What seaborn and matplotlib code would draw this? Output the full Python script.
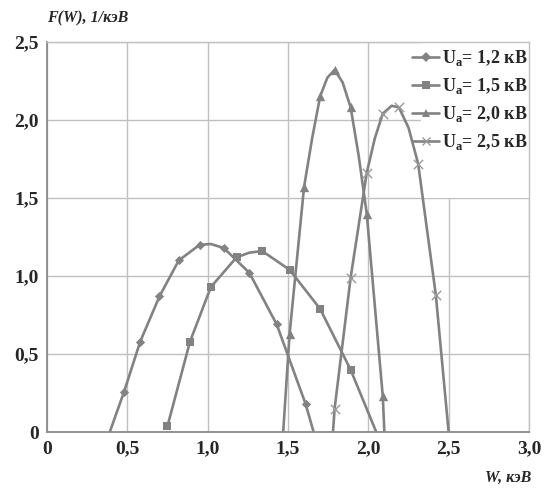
import numpy as np
import pandas as pd
import seaborn as sns
import matplotlib.pyplot as plt
from matplotlib.lines import Line2D
from matplotlib.patches import Rectangle

# values; mk = 1 where the chart shows a marker,
# mk = 0 for points read along the curve only (axis crossings, rounded tops)
w_12 = [0.39, 0.48, 0.58, 0.70, 0.82, 0.95, 1.02, 1.10, 1.26, 1.43, 1.61, 1.66]
f_12 = [0.00, 0.26, 0.58, 0.87, 1.10, 1.20, 1.205, 1.18, 1.02, 0.69, 0.18, 0.00]
mk_12 = [0, 1, 1, 1, 1, 1, 0, 1, 1, 1, 1, 0]

w_15 = [0.75, 0.89, 1.02, 1.18, 1.26, 1.34, 1.51, 1.70, 1.89, 2.05]
f_15 = [0.04, 0.58, 0.93, 1.12, 1.15, 1.16, 1.04, 0.79, 0.40, 0.00]
mk_15 = [1, 1, 1, 1, 0, 1, 1, 1, 1, 0]

w_20 = [1.47, 1.51, 1.60, 1.65, 1.70, 1.745, 1.79, 1.84, 1.89, 1.94, 1.99, 2.09, 2.10]
f_20 = [0.00, 0.63, 1.57, 1.88, 2.15, 2.27, 2.32, 2.24, 2.08, 1.77, 1.40, 0.23, 0.00]
mk_20 = [0, 1, 1, 0, 1, 0, 1, 0, 1, 0, 1, 1, 0]

w_25 = [1.78, 1.79, 1.89, 1.99, 2.04, 2.09, 2.145, 2.19, 2.25, 2.31, 2.42, 2.50]
f_25 = [0.00, 0.15, 0.99, 1.66, 1.88, 2.04, 2.09, 2.08, 1.95, 1.72, 0.88, 0.00]
mk_25 = [0, 1, 1, 1, 0, 1, 0, 1, 0, 1, 1, 0]

labels = [r'U$_{\mathbf{a}}$= 1,2 кВ', r'U$_{\mathbf{a}}$= 1,5 кВ',
          r'U$_{\mathbf{a}}$= 2,0 кВ', r'U$_{\mathbf{a}}$= 2,5 кВ']
markers = ['D', 's', '^', 'x']
marker_sizes = [22, 34, 45, 45]

x_ticks = [0, 0.5, 1.0, 1.5, 2.0, 2.5, 3.0]
x_ticklabels = ['0', '0,5', '1,0', '1,5', '2,0', '2,5', '3,0']
y_ticks = [0, 0.5, 1.0, 1.5, 2.0, 2.5]
y_ticklabels = ['0', '0,5', '1,0', '1,5', '2,0', '2,5']

series = []
for lab, w, f, mk in zip(labels, [w_12, w_15, w_20, w_25], [f_12, f_15, f_20, f_25],
                         [mk_12, mk_15, mk_20, mk_25]):
    series.append(pd.DataFrame({'W': w, 'F': f, 'mk': mk, 'series': lab}))

sns.set_style('white')
plt.rcParams['font.family'] = ['Liberation Serif', 'DejaVu Serif']
plt.rcParams['mathtext.fontset'] = 'custom'
plt.rcParams['mathtext.rm'] = 'Liberation Serif'
plt.rcParams['mathtext.bf'] = 'Liberation Serif:bold'

gray = '#828282'

fig = plt.figure(figsize=(5.44, 4.91), dpi=100)
ax = fig.add_axes([0.0864, 0.1196, 0.886, 0.7954])

for df, m, s in zip(series, markers, marker_sizes):
    sns.lineplot(data=df, x='W', y='F', color=gray, lw=1.9, sort=False,
                 estimator=None, legend=False, ax=ax)
    pts = df[df['mk'] == 1]
    if m == 'x':
        sns.scatterplot(data=pts, x='W', y='F', marker=m, color='#9a9a9a', s=s,
                        linewidth=1.0, legend=False, ax=ax, zorder=3)
    else:
        sns.scatterplot(data=pts, x='W', y='F', marker=m, color=gray, s=s,
                        linewidth=0, legend=False, ax=ax, zorder=3)

ax.set_xlim(0, 3)
ax.set_ylim(0, 2.5)
ax.set_xticks(x_ticks)
ax.set_xticklabels(x_ticklabels)
ax.set_yticks(y_ticks)
ax.set_yticklabels(y_ticklabels)
ax.set_xlabel('')
ax.set_ylabel('')
ax.set_axisbelow(True)
ax.grid(True, color='#c0c0c0', lw=1.0)
ax.tick_params(axis='both', length=3, width=1, color='#808080', pad=3,
               labelsize=14)
for t in ax.get_xticklabels() + ax.get_yticklabels():
    t.set_fontweight('bold')

for side in ['top', 'right']:
    ax.spines[side].set_color('#c0c0c0')
    ax.spines[side].set_linewidth(1.0)
for side in ['left', 'bottom']:
    ax.spines[side].set_color('#8a8a8a')
    ax.spines[side].set_linewidth(1.3)

# white area behind the legend (hides grid there)
ax.add_patch(Rectangle((0.775, 0.6), 0.225, 0.4, transform=ax.transAxes,
                       facecolor='white', edgecolor='none', zorder=1))

handles = []
for lab, m in zip(labels, markers):
    if m == 'x':
        handles.append(Line2D([], [], color=gray, lw=1.9, marker=m, markersize=6,
                              markeredgecolor='#9a9a9a', markeredgewidth=1.0))
    else:
        handles.append(Line2D([], [], color=gray, lw=1.9, marker=m,
                              markersize=5 if m == 'D' else 6, markeredgewidth=0))
ax.legend(handles, labels, loc='upper right', bbox_to_anchor=(1.02, 1.012),
          frameon=False, prop={'weight': 'bold', 'size': 13},
          handlelength=1.5, handletextpad=0.15, labelspacing=0.45,
          borderaxespad=0.2)

fig.text(47 / 544, 1 - 18 / 491, 'F(W), 1/кэВ', ha='left', va='center',
         fontsize=11.5, fontweight='bold', fontstyle='italic')
fig.text(531 / 544, 1 - 478 / 491, 'W, кэВ', ha='right', va='center',
         fontsize=11.5, fontweight='bold', fontstyle='italic')

plt.savefig('out.png', dpi=100)
plt.close()
